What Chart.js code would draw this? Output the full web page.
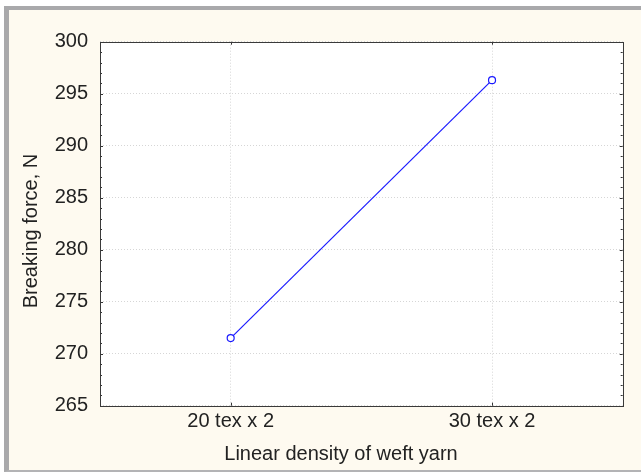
<!DOCTYPE html>
<html lang="en">
<head>
    <meta charset="UTF-8">
    <title>Breaking force vs linear density</title>
    <script src="https://cdn.jsdelivr.net/npm/chart.js@4.4.1/dist/chart.umd.min.js"></script>
    <style>
        body {
            margin: 0;
            padding: 0;
            background: #ffffff;
        }

        .frame {
            position: absolute;
            left: 4px;
            top: 6px;
            width: 632px;
            height: 460px;
            background: #fefaf0;
            border-left: 5px solid #a9a9ab;
            border-top: 4px solid #a9a9ab;
            border-bottom: 2px solid #b3b3b5;
        }

        canvas {
            position: absolute;
            left: 0;
            top: 0;
        }
    </style>
</head>
<body>
    <div class="frame"></div>
    <canvas id="forceChart" width="641" height="472"></canvas>

    <script>
        const categories = ['20 tex x 2', '30 tex x 2'];
        const breakingForce = [271.5, 296.3];
        const yMin = 265;
        const yMax = 300;
        const yStep = 5;
        const xTitle = 'Linear density of weft yarn';
        const yTitle = 'Breaking force, N';

        const fontFamily = "'Liberation Sans', Arial, sans-serif";
        const textColor = '#222222';

        // white plot area
        const plotBackground = {
            id: 'plotBackground',
            beforeDraw(chart) {
                const a = chart.chartArea;
                chart.ctx.save();
                chart.ctx.fillStyle = '#ffffff';
                chart.ctx.fillRect(a.left, a.top, a.right - a.left, a.bottom - a.top);
                chart.ctx.restore();
            }
        };

        // inner tick marks, plot frame and axis titles
        const framePlugin = {
            id: 'framePlugin',
            afterDraw(chart) {
                const ctx = chart.ctx;
                const area = chart.chartArea;
                const x = chart.scales.x;
                const y = chart.scales.y;

                ctx.save();
                ctx.strokeStyle = '#333333';
                ctx.lineWidth = 1;

                ctx.beginPath();
                for (let v = yMin; v <= yMax; v++) {
                    const py = Math.round(y.getPixelForValue(v)) + 0.5;
                    const len = (v % yStep === 0) ? 3 : 2;
                    ctx.moveTo(area.left, py);
                    ctx.lineTo(area.left + len, py);
                    ctx.moveTo(area.right, py);
                    ctx.lineTo(area.right - len, py);
                }
                categories.forEach((c, i) => {
                    const px = Math.round(x.getPixelForValue(i)) + 0.5;
                    ctx.moveTo(px, area.top);
                    ctx.lineTo(px, area.top + 3);
                    ctx.moveTo(px, area.bottom);
                    ctx.lineTo(px, area.bottom - 3);
                });
                ctx.stroke();

                ctx.strokeStyle = '#3a3a3a';
                ctx.strokeRect(Math.round(area.left) + 0.5, Math.round(area.top) + 0.5,
                    Math.round(area.right - area.left), Math.round(area.bottom - area.top));

                ctx.fillStyle = textColor;
                ctx.font = '20px ' + fontFamily;
                ctx.textAlign = 'center';
                ctx.textBaseline = 'middle';
                ctx.fillText(xTitle, 341, 454);

                ctx.translate(31, 231);
                ctx.rotate(-Math.PI / 2);
                ctx.fillText(yTitle, 0, 0);
                ctx.restore();
            }
        };

        const ctx = document.getElementById('forceChart').getContext('2d');
        new Chart(ctx, {
            type: 'line',
            data: {
                labels: categories,
                datasets: [{
                    label: 'Breaking force',
                    data: breakingForce,
                    borderColor: '#1a1aff',
                    borderWidth: 1.2,
                    backgroundColor: '#ffffff',
                    pointBackgroundColor: '#ffffff',
                    pointBorderColor: '#1a1aff',
                    pointBorderWidth: 1.2,
                    pointRadius: 3.5,
                    tension: 0
                }]
            },
            options: {
                responsive: false,
                devicePixelRatio: 1,
                animation: false,
                layout: {
                    padding: { left: 0, right: 18.3, top: 41.7, bottom: 0 }
                },
                plugins: {
                    legend: { display: false },
                    tooltip: { enabled: false }
                },
                scales: {
                    x: {
                        type: 'category',
                        offset: true,
                        afterFit: (scale) => { scale.height = 66.3; },
                        grid: {
                            offset: false,
                            drawTicks: false,
                            color: '#d6d6d6',
                            lineWidth: 1
                        },
                        border: { display: false, dash: [1, 2] },
                        ticks: {
                            padding: 4,
                            color: textColor,
                            font: { family: fontFamily, size: 20 }
                        }
                    },
                    y: {
                        min: yMin,
                        max: yMax,
                        afterFit: (scale) => { scale.width = 100; },
                        grid: {
                            drawTicks: false,
                            color: '#d6d6d6',
                            lineWidth: 1
                        },
                        border: { display: false, dash: [1, 2] },
                        ticks: {
                            stepSize: yStep,
                            padding: 12,
                            color: textColor,
                            font: { family: fontFamily, size: 20 }
                        }
                    }
                }
            },
            plugins: [plotBackground, framePlugin]
        });
    </script>
</body>
</html>
